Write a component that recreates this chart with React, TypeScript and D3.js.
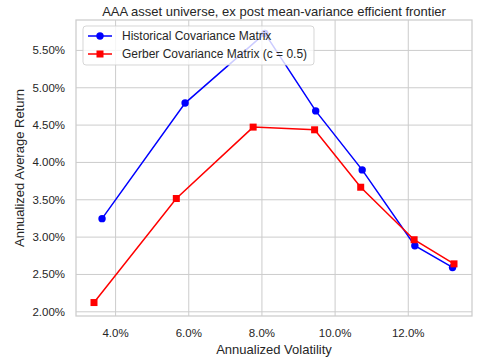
import React from "react";
import * as d3 from "d3";

const histVol = [3.63, 5.90, 8.08, 9.47, 10.74, 12.18, 13.21];
const histRet = [3.247, 4.795, 5.727, 4.69, 3.90, 2.885, 2.594];
const gerbVol = [3.41, 5.66, 7.76, 9.44, 10.70, 12.16, 13.25];
const gerbRet = [2.124, 3.517, 4.473, 4.437, 3.668, 2.965, 2.642];
const xTicks = [4, 6, 8, 10, 12];
const yTicks = [2.0, 2.5, 3.0, 3.5, 4.0, 4.5, 5.0, 5.5];
const seriesNames = ["Historical Covariance Matrix", "Gerber Covariance Matrix (c = 0.5)"];
const titleText = "AAA asset universe, ex post mean-variance efficient frontier";

const W = 480, H = 363;
const L = 76, R = 472, T = 20, B = 316;
const FONT = "'Liberation Sans', Arial, sans-serif";
const TXT = "#262626";
const GRID = "#cccccc";

export default function App() {
  const allV = [...histVol, ...gerbVol];
  const allR = [...histRet, ...gerbRet];
  const [vmin, vmax] = d3.extent(allV) as [number, number];
  const [rmin, rmax] = d3.extent(allR) as [number, number];
  const vm = (vmax - vmin) * 0.05, rm = (rmax - rmin) * 0.05;
  const x = d3.scaleLinear().domain([vmin - vm, vmax + vm]).range([L, R]);
  const y = d3.scaleLinear().domain([rmin - rm, rmax + rm]).range([B, T]);
  const line = d3.line<[number, number]>().x(d => x(d[0])).y(d => y(d[1]));
  const hist = histVol.map((v, i) => [v, histRet[i]] as [number, number]);
  const gerb = gerbVol.map((v, i) => [v, gerbRet[i]] as [number, number]);
  const ms = 7;

  return (
    <svg width={W} height={H} style={{ position: "absolute", left: 0, top: 0 }} fontFamily={FONT}>
      <rect x={0} y={0} width={W} height={H} fill="#fff" />
      {xTicks.map(t => (
        <line key={"gx" + t} x1={x(t)} x2={x(t)} y1={T} y2={B} stroke={GRID} strokeWidth={1} />
      ))}
      {yTicks.map(t => (
        <line key={"gy" + t} x1={L} x2={R} y1={y(t)} y2={y(t)} stroke={GRID} strokeWidth={1} />
      ))}
      <rect x={L} y={T} width={R - L} height={B - T} fill="none" stroke={GRID} strokeWidth={1.25} />
      {xTicks.map(t => (
        <text key={"tx" + t} x={x(t)} y={337} textAnchor="middle" fontSize={11.5} fill={TXT}>
          {t.toFixed(1) + "%"}
        </text>
      ))}
      {yTicks.map(t => (
        <text key={"ty" + t} x={L - 11} y={y(t) + 4} textAnchor="end" fontSize={11.5} fill={TXT}>
          {t.toFixed(2) + "%"}
        </text>
      ))}
      <path d={line(hist) || ""} fill="none" stroke="#0000ff" strokeWidth={1.5} />
      {hist.map((d, i) => (
        <circle key={"h" + i} cx={x(d[0])} cy={y(d[1])} r={3.7} fill="#0000ff" />
      ))}
      <path d={line(gerb) || ""} fill="none" stroke="#ff0000" strokeWidth={1.5} />
      {gerb.map((d, i) => (
        <rect key={"g" + i} x={x(d[0]) - ms / 2} y={y(d[1]) - ms / 2} width={ms} height={ms} fill="#ff0000" />
      ))}
      <g>
        <rect x={83} y={26} width={231} height={39} rx={3} fill="#ffffff" fillOpacity={0.8} stroke="#cccccc" strokeOpacity={0.8} strokeWidth={1} />
        <line x1={88} x2={112} y1={36} y2={36} stroke="#0000ff" strokeWidth={1.5} />
        <circle cx={100} cy={36} r={3.7} fill="#0000ff" />
        <text x={122} y={40} fontSize={12} fill={TXT}>{seriesNames[0]}</text>
        <line x1={88} x2={112} y1={54} y2={54} stroke="#ff0000" strokeWidth={1.5} />
        <rect x={100 - ms / 2} y={54 - ms / 2} width={ms} height={ms} fill="#ff0000" />
        <text x={122} y={58} fontSize={12} fill={TXT}>{seriesNames[1]}</text>
      </g>
      <text x={(L + R) / 2} y={16} textAnchor="middle" fontSize={13} fill={TXT}>{titleText}</text>
      <text x={(L + R) / 2} y={354} textAnchor="middle" fontSize={13} fill={TXT}>Annualized Volatility</text>
      <text transform={`translate(24,${(T + B) / 2}) rotate(-90)`} textAnchor="middle" fontSize={13} fill={TXT}>
        Annualized Average Return
      </text>
    </svg>
  );
}
